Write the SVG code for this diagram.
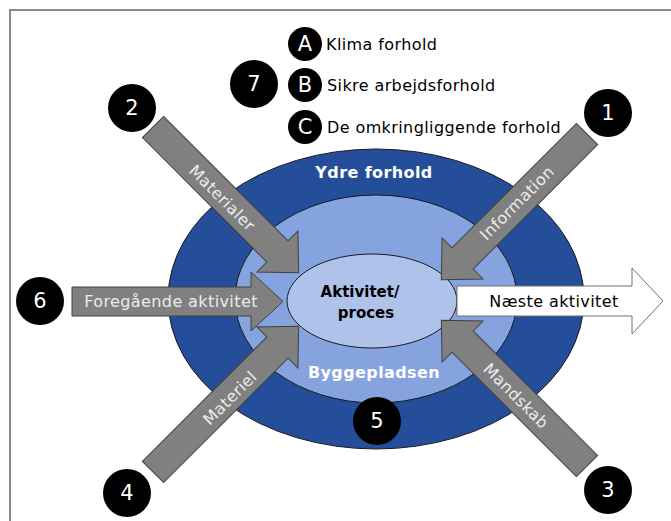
<svg xmlns="http://www.w3.org/2000/svg" width="671" height="521" viewBox="0 0 671 521">
<defs>
<style>
.t{font-family:"DejaVu Sans","Verdana",sans-serif;font-size:16px;letter-spacing:0.4px}
.w{fill:#ffffff;font-weight:bold}
.g{fill:#ececec}
.k{fill:#000000}
.num{font-family:"DejaVu Sans",sans-serif;font-size:21px;fill:#ffffff;text-anchor:middle;dominant-baseline:central}
.arr{fill:#808080;stroke:#404040;stroke-width:1}
</style>
<polygon id="ar" points="0,-15 176,-15 176,-29 206,0 176,29 176,15 0,15"/>
</defs>
<rect width="671" height="521" fill="#ffffff"/>
<path d="M10,521 V10 H671" fill="none" stroke="#8a8a8a" stroke-width="2"/>

<g id="ydre">
<ellipse cx="376" cy="299" rx="208" ry="150" fill="#244e99" stroke="#1a1a1a" stroke-width="1"/>
<text class="t w" x="374" y="178" text-anchor="middle">Ydre forhold</text>
</g>
<g id="byggepladsen">
<ellipse cx="376" cy="299" rx="141" ry="104" fill="#85a3df" stroke="#1a1a1a" stroke-width="1"/>
<text class="t w" x="374" y="378" text-anchor="middle">Byggepladsen</text>
</g>
<g id="aktivitet">
<ellipse cx="372" cy="301" rx="85" ry="47" fill="#afc3ea" stroke="#1a1a1a" stroke-width="1"/>
<text x="360" y="297" text-anchor="middle" font-family="DejaVu Sans, Verdana, sans-serif" font-size="15" font-weight="bold" fill="#000">Aktivitet/</text>
<text x="366" y="318" text-anchor="middle" font-family="DejaVu Sans, Verdana, sans-serif" font-size="15" font-weight="bold" fill="#000">proces</text>
</g>

<g id="connectors">
<g id="arrow-materialer">
<use href="#ar" class="arr" transform="translate(153,127) rotate(45)"/>
<text class="t g" transform="translate(222,198) rotate(45)" text-anchor="middle" dominant-baseline="central">Materialer</text>
</g>
<g id="arrow-information">
<use href="#ar" class="arr" transform="translate(587,134) rotate(135)"/>
<text class="t g" transform="translate(517,203) rotate(-45)" text-anchor="middle" dominant-baseline="central">Information</text>
</g>
<g id="arrow-materiel">
<use href="#ar" class="arr" transform="translate(153,472) rotate(-45)"/>
<text class="t g" transform="translate(230,398) rotate(-45)" text-anchor="middle" dominant-baseline="central">Materiel</text>
</g>
<g id="arrow-mandskab">
<use href="#ar" class="arr" transform="translate(587,466) rotate(-135)"/>
<text class="t g" transform="translate(516,396) rotate(45)" text-anchor="middle" dominant-baseline="central">Mandskab</text>
</g>
<g id="arrow-foregaaende">
<polygon class="arr" points="72,287 251,287 251,272 283,301.5 251,331 251,316 72,316"/>
<text class="t g" x="171" y="307" text-anchor="middle">Foregående aktivitet</text>
</g>
<g id="arrow-naeste">
<polygon points="457,286 632,286 632,268 663,301 632,334 632,316 457,316" fill="#ffffff" stroke="#707070" stroke-width="1"/>
<text class="t k" x="554" y="307" text-anchor="middle">Næste aktivitet</text>
</g>
</g>

<g id="n1"><circle cx="608" cy="113" r="24"/><text class="num" x="608" y="113">1</text></g>
<g id="n2"><circle cx="132" cy="108" r="24"/><text class="num" x="132" y="108">2</text></g>
<g id="n3"><circle cx="608" cy="490" r="24"/><text class="num" x="608" y="490">3</text></g>
<g id="n4"><circle cx="127" cy="493" r="24"/><text class="num" x="127" y="493">4</text></g>
<g id="n5"><circle cx="377" cy="421" r="24"/><text class="num" x="377" y="421">5</text></g>
<g id="n6"><circle cx="40" cy="301" r="24"/><text class="num" x="40" y="301">6</text></g>
<g id="n7"><circle cx="254" cy="84" r="24"/><text class="num" x="254" y="84">7</text></g>

<g id="legend-a"><circle cx="305" cy="44" r="17"/><text class="num" x="305" y="44" font-size="20">A</text>
<text class="t k" x="326" y="50">Klima forhold</text></g>
<g id="legend-b"><circle cx="305" cy="85" r="17"/><text class="num" x="305" y="85" font-size="20">B</text>
<text class="t k" x="327" y="91">Sikre arbejdsforhold</text></g>
<g id="legend-c"><circle cx="305" cy="127" r="17"/><text class="num" x="305" y="127" font-size="20">C</text>
<text class="t k" x="327" y="133">De omkringliggende forhold</text></g>
</svg>
